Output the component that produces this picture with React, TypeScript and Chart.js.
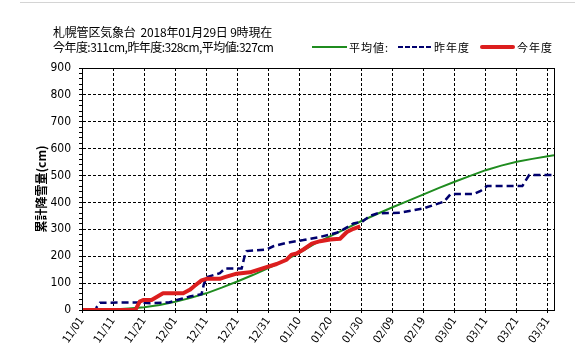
import React, { useEffect, useRef } from 'react';
import { Chart, registerables } from 'chart.js';

Chart.register(...registerables);

// ---- text ----
const titleLine1 = '札幌管区気象台  2018年01月29日 9時現在';
const titleLine2 = '今年度:311cm,昨年度:328cm,平均値:327cm';
const legendLabels = ['平均値:', '昨年度', '今年度'];
const yAxisTitle = '累計降雪量(cm)';

// ---- x axis: days since 11/01, tick every 10 days ----
const xTickLabels = [
  '11/01', '11/11', '11/21', '12/01', '12/11', '12/21', '12/31', '01/10',
  '01/20', '01/30', '02/09', '02/19', '03/01', '03/11', '03/21', '03/31',
];

// ---- average (平均値) ----
const avgDays = [0, 5, 10, 15, 20, 25, 30, 35, 40, 45, 50, 55, 60, 65, 70, 75, 80, 85, 90, 95, 100, 105, 110, 115, 120, 125, 130, 135, 140, 145, 150, 152];
const avgValues = [0, 0, 2, 6, 10, 19, 31, 45, 62, 83, 106, 130, 156, 183, 212, 247, 275, 303, 331, 357, 382, 406, 430, 454, 477, 499, 520, 537, 551, 562, 572, 576];

// ---- last season (昨年度) ----
const lastDays = [0, 4.5, 4.7, 5.8, 19, 22, 28, 31.5, 34.7, 38.5, 39.2, 40.1, 44.4, 46, 51.4, 52.5, 53, 59.5, 61.6, 65.9, 71.3, 76.7, 79.9, 82, 84.2, 87.4, 90.2, 92.8, 95, 102.6, 110, 116.6, 118.7, 126.2, 128.4, 130.5, 141.8, 144, 152];
const lastValues = [0, 0, 10, 27, 28, 25, 28, 40, 50, 59, 94, 122, 137, 154, 154, 206, 219, 225, 237, 250, 260, 272, 281, 287, 300, 322, 328, 350, 359, 362, 378, 403, 431, 431, 443, 461, 461, 502, 502];

// ---- this season (今年度) ----
const thisDays = [0, 17.2, 18.6, 19.7, 22.4, 26.1, 32.6, 34.7, 36.3, 38.5, 40.1, 44.4, 46, 49.8, 54.1, 58.4, 62.7, 65.9, 67.5, 69.1, 71.3, 74, 76.7, 79.9, 83.1, 85.3, 87.4, 89.6];
const thisValues = [0, 0, 31, 37, 37, 62, 62, 75, 90, 110, 116, 116, 122, 135, 140, 156, 171, 187, 206, 210, 225, 247, 256, 262, 265, 290, 302, 311];

const GREEN = '#1f8c1f';
const NAVY = '#00006e';
const RED = '#dc1e1e';

const cjk = '"Noto Sans CJK JP", sans-serif';
const narrow = '"Liberation Sans Narrow", "DejaVu Sans Condensed", "Liberation Sans", sans-serif';

const toPoints = (xs: number[], ys: number[]) => xs.map((x, i) => ({ x, y: ys[i] }));

const framePlugin = {
  id: 'frame',
  afterDatasetsDraw(chart: any) {
    const { ctx, chartArea } = chart;
    ctx.save();
    ctx.strokeStyle = '#000';
    ctx.lineWidth = 1;
    ctx.setLineDash([]);
    ctx.strokeRect(
      Math.round(chartArea.left) + 0.5,
      Math.round(chartArea.top) + 0.5,
      Math.round(chartArea.right - chartArea.left),
      Math.round(chartArea.bottom - chartArea.top)
    );
    ctx.restore();
  },
};

export default function App() {
  const canvasRef = useRef<HTMLCanvasElement>(null);

  useEffect(() => {
    document.body.style.margin = '0';
    const chart = new Chart(canvasRef.current as HTMLCanvasElement, {
      type: 'line',
      data: {
        datasets: [
          {
            label: legendLabels[2],
            data: toPoints(thisDays, thisValues),
            borderColor: RED,
            borderWidth: 4,
            borderJoinStyle: 'round',
            pointRadius: 0,
            tension: 0,
          },
          {
            label: legendLabels[1],
            data: toPoints(lastDays, lastValues),
            borderColor: NAVY,
            borderWidth: 2.5,
            borderDash: [7, 4],
            pointRadius: 0,
            tension: 0,
          },
          {
            label: legendLabels[0],
            data: toPoints(avgDays, avgValues),
            borderColor: GREEN,
            borderWidth: 2,
            pointRadius: 0,
            tension: 0,
          },
        ],
      } as any,
      options: {
        responsive: false,
        animation: false,
        devicePixelRatio: 1,
        layout: { padding: { left: 0, top: 68, right: 21, bottom: 0 } },
        plugins: {
          legend: { display: false },
          tooltip: { enabled: false },
          title: { display: false },
        },
        scales: {
          x: {
            type: 'linear',
            min: 0,
            max: 152,
            afterFit: (s: any) => {
              s.height = 43;
            },
            ticks: {
              stepSize: 10,
              autoSkip: false,
              includeBounds: false,
              minRotation: 55,
              maxRotation: 55,
              padding: 2,
              color: '#000',
              font: { family: narrow, size: 11 },
              callback: (v: any) => xTickLabels[Math.round(Number(v) / 10)] ?? '',
            },
            grid: {
              color: '#000',
              lineWidth: 1,
              tickLength: 3,
              tickColor: '#000',
              tickBorderDash: [],
            },
            border: { display: true, color: '#000', width: 1, dash: [3, 2] },
          },
          y: {
            min: 0,
            max: 900,
            afterFit: (s: any) => {
              s.width = 82;
            },
            ticks: {
              stepSize: 20,
              autoSkip: false,
              padding: 8,
              color: '#000',
              font: { family: narrow, size: 12 },
              callback: (v: any) => (Number(v) % 100 === 0 ? String(v) : ''),
            },
            grid: {
              color: (c: any) => (c.tick && c.tick.value % 100 === 0 ? '#000' : 'rgba(0,0,0,0)'),
              lineWidth: 1,
              tickLength: 3,
              tickColor: '#000',
              tickBorderDash: [],
            },
            border: { display: true, color: '#000', width: 1, dash: [3, 2] },
            title: {
              display: true,
              text: yAxisTitle,
              color: '#000',
              font: { family: cjk, size: 12, weight: 'bold' },
              padding: { top: 34, bottom: 0 },
            },
          },
        },
      } as any,
      plugins: [framePlugin],
    });
    return () => chart.destroy();
  }, []);

  const textStyle: React.CSSProperties = {
    position: 'absolute',
    fontFamily: cjk,
    color: '#000',
    whiteSpace: 'pre',
  };

  return (
    <div style={{ position: 'relative', width: 575, height: 353, background: '#fff', overflow: 'hidden' }}>
      <canvas ref={canvasRef} width={575} height={353} style={{ position: 'absolute', left: 0, top: 0 }} />
      <div style={{ position: 'absolute', left: 20, top: 2, width: 555, height: 1, background: '#d4d4d4' }} />
      <div style={{ ...textStyle, left: 53, top: 25, fontSize: 12, lineHeight: '14px', letterSpacing: -0.2 }}>{titleLine1}</div>
      <div style={{ ...textStyle, left: 53, top: 40, fontSize: 12, lineHeight: '14px', letterSpacing: -0.55 }}>{titleLine2}</div>

      <div style={{ position: 'absolute', left: 312, top: 46, width: 35, height: 2, background: GREEN }} />
      <div style={{ ...textStyle, left: 349, top: 40, fontSize: 11, lineHeight: '14px', letterSpacing: 1 }}>{legendLabels[0]}</div>

      <div
        style={{
          position: 'absolute',
          left: 398,
          top: 46,
          width: 35,
          height: 2,
          background: `repeating-linear-gradient(to right, ${NAVY} 0px, ${NAVY} 5px, transparent 5px, transparent 7px)`,
        }}
      />
      <div style={{ ...textStyle, left: 434, top: 40, fontSize: 11, lineHeight: '14px', letterSpacing: 1 }}>{legendLabels[1]}</div>

      <div style={{ position: 'absolute', left: 480, top: 45, width: 35, height: 4, background: RED, borderRadius: 2 }} />
      <div style={{ ...textStyle, left: 517, top: 40, fontSize: 11, lineHeight: '14px', letterSpacing: 1 }}>{legendLabels[2]}</div>
    </div>
  );
}
